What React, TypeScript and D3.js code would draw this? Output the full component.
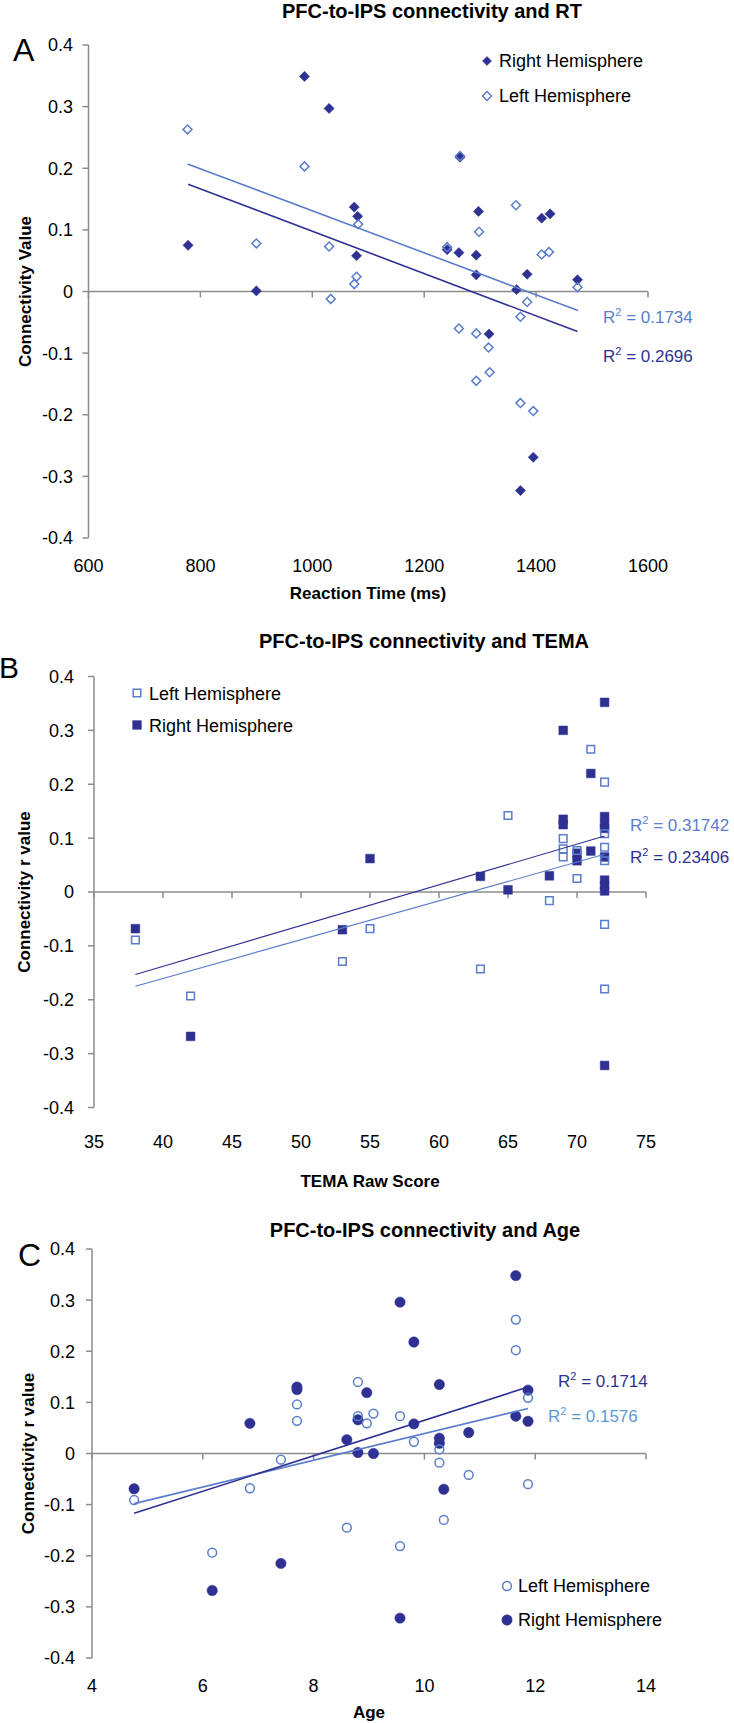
import React from "react";
import * as d3 from "d3";

// ---- data ----
// Panel A: reaction time (ms) vs connectivity
const rtRight: [number, number][] = [
  [778, 0.075], [986, 0.349], [1030, 0.297], [900, 0.001], [1075, 0.137],
  [1081, 0.122], [1079, 0.058], [1264, 0.218], [1241, 0.068], [1262, 0.063],
  [1297, 0.13], [1293, 0.059], [1293, 0.027], [1384, 0.028], [1410, 0.119],
  [1425, 0.126], [1474, 0.019], [1365, 0.003], [1316, -0.069], [1395, -0.269],
  [1372, -0.323],
];
const rtLeft: [number, number][] = [
  [777, 0.263], [986, 0.203], [900, 0.078], [1030, 0.073], [1082, 0.109],
  [1079, 0.024], [1075, 0.012], [1033, -0.012], [1264, 0.22], [1241, 0.072],
  [1298, 0.097], [1364, 0.14], [1410, 0.06], [1423, 0.064], [1474, 0.007],
  [1384, -0.017], [1372, -0.041], [1262, -0.06], [1293, -0.068], [1315, -0.091],
  [1293, -0.145], [1317, -0.131], [1372, -0.181], [1395, -0.194],
];
const rtTrendRight: [number, number][] = [[778, 0.174], [1474, -0.065]];
const rtTrendLeft: [number, number][] = [[777, 0.207], [1475, -0.031]];
const rtTicks = [600, 800, 1000, 1200, 1400, 1600];

// Panel B: TEMA raw score vs connectivity
const temaRight: [number, number][] = [
  [38, -0.068], [42, -0.268], [53, -0.07], [55, 0.062], [63, 0.029], [65, 0.004],
  [68, 0.03], [69, 0.3], [69, 0.135], [69, 0.125], [70, 0.072], [70, 0.058],
  [71, 0.22], [71, 0.076], [72, 0.352], [72, 0.14], [72, 0.125], [72, 0.118],
  [72, 0.065], [72, 0.022], [72, 0.012], [72, 0.002], [72, -0.322],
];
const temaLeft: [number, number][] = [
  [38, -0.089], [42, -0.193], [53, -0.129], [55, -0.068], [63, -0.143], [65, 0.142],
  [68, -0.016], [69, 0.099], [69, 0.08], [69, 0.065], [70, 0.077], [70, 0.025],
  [71, 0.265], [72, 0.204], [72, 0.108], [72, 0.083], [72, 0.058], [72, -0.06],
  [72, -0.18],
];
const temaTrendRight: [number, number][] = [[38, -0.153], [72, 0.104]];
const temaTrendLeft: [number, number][] = [[38, -0.175], [72, 0.07]];
const temaTicks = [35, 40, 45, 50, 55, 60, 65, 70, 75];

// Panel C: age vs connectivity
const ageRight: [number, number][] = [
  [4.76, -0.069], [6.85, 0.059], [7.7, 0.13], [7.7, 0.125], [8.96, 0.119],
  [8.8, 0.066], [8.6, 0.027], [8.8, 0.002], [9.08, 0.0], [7.41, -0.215],
  [6.17, -0.268], [9.56, 0.296], [9.81, 0.218], [11.65, 0.348], [10.27, 0.135],
  [11.87, 0.124], [9.81, 0.058], [11.65, 0.073], [11.87, 0.063], [10.8, 0.041],
  [10.27, 0.03], [10.27, 0.02], [10.35, -0.07], [9.56, -0.322],
];
const ageLeft: [number, number][] = [
  [4.76, -0.091], [6.17, -0.194], [6.85, -0.068], [7.41, -0.012], [7.7, 0.096],
  [7.7, 0.064], [8.8, 0.14], [8.8, 0.073], [8.96, 0.059], [9.08, 0.078],
  [8.6, -0.145], [11.65, 0.262], [11.65, 0.202], [11.87, 0.109], [9.56, 0.073],
  [9.81, 0.023], [10.27, 0.008], [10.27, -0.018], [10.8, -0.042], [11.87, -0.06],
  [10.35, -0.13], [9.56, -0.181],
];
const ageTrendRight: [number, number][] = [[4.76, -0.117], [11.87, 0.13]];
const ageTrendLeft: [number, number][] = [[4.76, -0.098], [11.87, 0.088]];
const ageTicks = [4, 6, 8, 10, 12, 14];

const rTicks = [-0.4, -0.3, -0.2, -0.1, 0, 0.1, 0.2, 0.3, 0.4];

// ---- styles ----
const DARK = "#2e3192";
const LIGHT = "#5a7dcc";
const CYAN = "#5a9ad4";
const AXIS = "#8c8c8c";
const FONT = "'Liberation Sans', Arial, sans-serif";

const fmtR = (d: number) => (Math.abs(d) < 1e-9 ? "0" : d.toFixed(1));

const diamond = d3.symbol(d3.symbolSquare, 52)();
const diamondSm = d3.symbol(d3.symbolSquare, 40)();
const square = d3.symbol(d3.symbolSquare, 76)();
const squareSm = d3.symbol(d3.symbolSquare, 58)();

type Marker = "diamond" | "square" | "circle";

function Mark({ kind, open, x, y, legend }: { kind: Marker; open: boolean; x: number; y: number; legend?: boolean }) {
  const fill = open ? "none" : DARK;
  const stroke = open ? LIGHT : DARK;
  const sw = open ? 1.5 : 0.5;
  if (kind === "circle") {
    return <circle cx={x} cy={y} r={open ? 4.4 : 5.2} fill={fill} stroke={stroke} strokeWidth={sw} />;
  }
  if (kind === "diamond") {
    const p = open || legend ? diamondSm : diamond;
    return <path d={p!} transform={`translate(${x},${y}) rotate(45)`} fill={fill} stroke={stroke} strokeWidth={sw} />;
  }
  return <path d={(open ? squareSm : square)!} transform={`translate(${x},${y})`} fill={fill} stroke={stroke} strokeWidth={sw} />;
}

function R2({ x, y, value, color }: { x: number; y: number; value: string; color: string }) {
  return (
    <text x={x} y={y} fill={color} fontSize={17} fontFamily={FONT}>
      R<tspan dy={-7} fontSize={11}>2</tspan>
      <tspan dy={7}> = {value}</tspan>
    </text>
  );
}

type PanelProps = {
  x: d3.ScaleLinear<number, number>;
  y: d3.ScaleLinear<number, number>;
  xTicks: number[];
  xTickBase: number;
  yTickRight: number;
  right: [number, number][];
  left: [number, number][];
  trendRight: [number, number][];
  trendLeft: [number, number][];
  lineWidth: number;
  kind: Marker;
};

function Panel(p: PanelProps) {
  const { x, y } = p;
  const line = d3.line<[number, number]>().x((d) => x(d[0])).y((d) => y(d[1]));
  const [x0, x1] = x.range();
  return (
    <g>
      {/* y axis */}
      <line x1={x0} x2={x0} y1={y(0.4)} y2={y(-0.4)} stroke={AXIS} strokeWidth={1.5} />
      {rTicks.map((t) => (
        <g key={t}>
          <line x1={x0 - 6} x2={x0} y1={y(t)} y2={y(t)} stroke={AXIS} strokeWidth={1.5} />
          <text x={p.yTickRight} y={y(t)} dy="0.36em" textAnchor="end" fontSize={18} fontFamily={FONT} fill="#000">
            {fmtR(t)}
          </text>
        </g>
      ))}
      {/* x axis along zero */}
      <line x1={x0} x2={x1} y1={y(0)} y2={y(0)} stroke={AXIS} strokeWidth={1.5} />
      {p.xTicks.map((t) => (
        <g key={t}>
          <line x1={x(t)} x2={x(t)} y1={y(0)} y2={y(0) + 6} stroke={AXIS} strokeWidth={1.5} />
          <text x={x(t)} y={p.xTickBase} textAnchor="middle" fontSize={18} fontFamily={FONT} fill="#000">
            {t}
          </text>
        </g>
      ))}
      {p.right.map((d, i) => (
        <Mark key={"r" + i} kind={p.kind} open={false} x={x(d[0])} y={y(d[1])} />
      ))}
      {p.left.map((d, i) => (
        <Mark key={"l" + i} kind={p.kind} open={true} x={x(d[0])} y={y(d[1])} />
      ))}
      <path d={line(p.trendLeft)!} stroke={LIGHT} strokeWidth={p.lineWidth} fill="none" />
      <path d={line(p.trendRight)!} stroke={DARK} strokeWidth={p.lineWidth} fill="none" />
    </g>
  );
}

export default function App() {
  const xA = d3.scaleLinear().domain([600, 1600]).range([88.5, 648]);
  const yA = d3.scaleLinear().domain([-0.4, 0.4]).range([538, 45]);
  const xB = d3.scaleLinear().domain([35, 75]).range([94, 646]);
  const yB = d3.scaleLinear().domain([-0.4, 0.4]).range([1107.5, 676.5]);
  const xC = d3.scaleLinear().domain([4, 14]).range([92, 646]);
  const yC = d3.scaleLinear().domain([-0.4, 0.4]).range([1658, 1249]);

  const title = { fontSize: 20, fontWeight: 700, fontFamily: FONT, textAnchor: "middle" as const };
  const axisLabel = { fontSize: 17, fontWeight: 700, fontFamily: FONT, textAnchor: "middle" as const };
  const legendText = { fontSize: 18, fontFamily: FONT };

  return (
    <svg width={734} height={1723} style={{ position: "absolute", left: 0, top: 0, background: "#fff" }}>
      <rect width={734} height={1723} fill="#fff" />

      {/* ---- A ---- */}
      <text x={432} y={18} {...title}>PFC-to-IPS connectivity and RT</text>
      <text x={13} y={61} fontSize={32} fontFamily={FONT}>A</text>
      <Panel x={xA} y={yA} xTicks={rtTicks} xTickBase={572} yTickRight={73} right={rtRight} left={rtLeft}
        trendRight={rtTrendRight} trendLeft={rtTrendLeft} lineWidth={1.6} kind="diamond" />
      <text transform={`translate(31,${yA(0)}) rotate(-90)`} {...axisLabel}>Connectivity Value</text>
      <text x={368} y={599} {...axisLabel}>Reaction Time (ms)</text>
      <Mark kind="diamond" open={false} legend x={487} y={61} />
      <text x={499} y={67} {...legendText}>Right Hemisphere</text>
      <Mark kind="diamond" open={true} x={487} y={96} />
      <text x={499} y={102} {...legendText}>Left Hemisphere</text>
      <R2 x={603} y={323} value="0.1734" color={LIGHT} />
      <R2 x={603} y={362} value="0.2696" color={DARK} />

      {/* ---- B ---- */}
      <text x={424} y={648} {...title}>PFC-to-IPS connectivity and TEMA</text>
      <text x={-1} y={678} fontSize={30} fontFamily={FONT}>B</text>
      <Panel x={xB} y={yB} xTicks={temaTicks} xTickBase={1148} yTickRight={74} right={temaRight} left={temaLeft}
        trendRight={temaTrendRight} trendLeft={temaTrendLeft} lineWidth={1.1} kind="square" />
      <text transform={`translate(30,${yB(0)}) rotate(-90)`} {...axisLabel}>Connectivity r value</text>
      <text x={370} y={1187} {...axisLabel}>TEMA Raw Score</text>
      <Mark kind="square" open={true} x={137} y={693} />
      <text x={149} y={700} {...legendText}>Left Hemisphere</text>
      <Mark kind="square" open={false} x={137} y={725} />
      <text x={149} y={732} {...legendText}>Right Hemisphere</text>
      <R2 x={630} y={831} value="0.31742" color={LIGHT} />
      <R2 x={630} y={863} value="0.23406" color={DARK} />

      {/* ---- C ---- */}
      <text x={425} y={1237} {...title}>PFC-to-IPS connectivity and Age</text>
      <text x={18} y={1266} fontSize={32} fontFamily={FONT}>C</text>
      <Panel x={xC} y={yC} xTicks={ageTicks} xTickBase={1692} yTickRight={75} right={ageRight} left={ageLeft}
        trendRight={ageTrendRight} trendLeft={ageTrendLeft} lineWidth={1.6} kind="circle" />
      <text transform={`translate(34,${yC(0)}) rotate(-90)`} {...axisLabel}>Connectivity r value</text>
      <text x={369} y={1718} {...axisLabel}>Age</text>
      <Mark kind="circle" open={true} x={507} y={1586} />
      <text x={518} y={1592} {...legendText}>Left Hemisphere</text>
      <Mark kind="circle" open={false} x={507} y={1620} />
      <text x={518} y={1626} {...legendText}>Right Hemisphere</text>
      <R2 x={558} y={1387} value="0.1714" color={DARK} />
      <R2 x={548} y={1422} value="0.1576" color={CYAN} />
    </svg>
  );
}
